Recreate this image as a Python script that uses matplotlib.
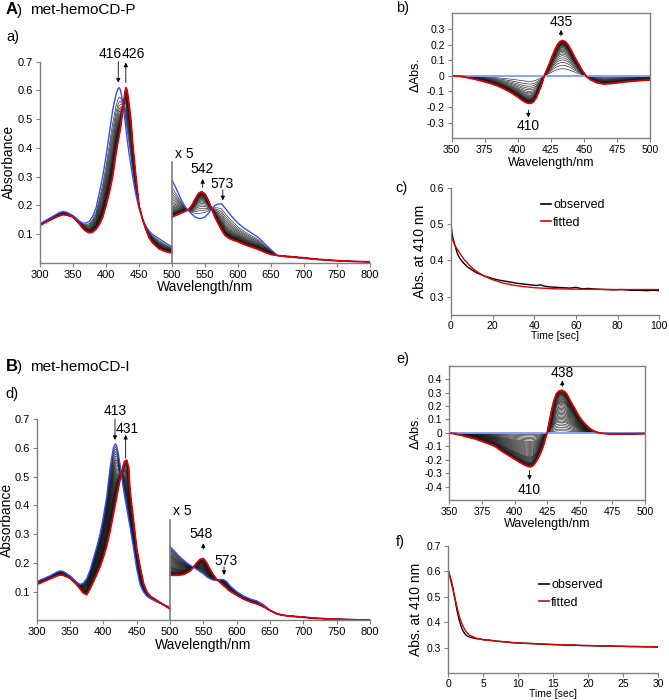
import numpy as np
import matplotlib
matplotlib.use('Agg')
import matplotlib.pyplot as plt
from matplotlib.lines import Line2D

plt.rcParams['font.family'] = ['Liberation Sans', 'DejaVu Sans']
plt.rcParams['axes.linewidth'] = 1.0

# ---------------- spectra, Soret side (300-500 nm, as measured)
wl_uv = [300, 310, 320, 330, 335, 340, 350, 360, 365, 370, 375, 380, 385, 390, 395, 400,
         405, 410, 415, 418, 420, 422, 425, 428, 430, 432, 435, 438, 440, 445, 450, 455,
         460, 465, 470, 480, 490, 500]
P_blue_uv = [0.137, 0.150, 0.163, 0.176, 0.179, 0.177, 0.165, 0.145, 0.139, 0.139, 0.145, 0.163,
             0.192, 0.245, 0.300, 0.370, 0.450, 0.530, 0.585, 0.605, 0.610, 0.600, 0.565, 0.510,
             0.470, 0.430, 0.380, 0.335, 0.305, 0.240, 0.190, 0.155, 0.130, 0.112, 0.100, 0.085,
             0.070, 0.056]
P_red_uv = [0.131, 0.143, 0.155, 0.165, 0.168, 0.167, 0.160, 0.135, 0.120, 0.110, 0.105, 0.108,
            0.118, 0.135, 0.160, 0.200, 0.245, 0.300, 0.380, 0.420, 0.445, 0.470, 0.525, 0.580,
            0.610, 0.600, 0.550, 0.490, 0.425, 0.305, 0.200, 0.155, 0.120, 0.090, 0.072, 0.050,
            0.040, 0.035]
I_blue_uv = [0.135, 0.145, 0.155, 0.168, 0.172, 0.170, 0.155, 0.133, 0.125, 0.130, 0.145, 0.175,
             0.215, 0.255, 0.300, 0.360, 0.430, 0.530, 0.600, 0.614, 0.605, 0.585, 0.540, 0.490,
             0.460, 0.430, 0.390, 0.350, 0.325, 0.255, 0.180, 0.125, 0.100, 0.085, 0.077, 0.065,
             0.055, 0.046]
I_red_uv = [0.125, 0.135, 0.145, 0.155, 0.158, 0.157, 0.147, 0.125, 0.110, 0.095, 0.090, 0.110,
            0.135, 0.160, 0.187, 0.220, 0.260, 0.310, 0.370, 0.405, 0.430, 0.455, 0.490, 0.520,
            0.540, 0.553, 0.557, 0.530, 0.450, 0.350, 0.250, 0.187, 0.130, 0.100, 0.085, 0.070,
            0.055, 0.040]

# ---------------- spectra, Q-band side (500-800 nm, shown x 5)
wl_vis = [500, 505, 510, 515, 520, 525, 530, 535, 540, 545, 550, 555, 560, 565, 570, 575, 580,
          585, 590, 600, 610, 620, 630, 640, 650, 660, 670, 680, 700, 720, 750, 780, 800]
P_blue_vis = [0.287, 0.265, 0.240, 0.215, 0.195, 0.182, 0.170, 0.160, 0.155, 0.155, 0.160, 0.172,
              0.188, 0.200, 0.205, 0.206, 0.192, 0.178, 0.163, 0.138, 0.120, 0.105, 0.090, 0.068,
              0.046, 0.026, 0.022, 0.020, 0.016, 0.012, 0.008, 0.005, 0.004]
P_red_vis = [0.160, 0.165, 0.170, 0.175, 0.180, 0.185, 0.200, 0.222, 0.242, 0.248, 0.240, 0.218,
             0.189, 0.160, 0.137, 0.115, 0.097, 0.088, 0.082, 0.074, 0.064, 0.056, 0.048, 0.038,
             0.030, 0.026, 0.024, 0.022, 0.018, 0.013, 0.008, 0.005, 0.004]
I_blue_vis = [0.256, 0.245, 0.232, 0.220, 0.210, 0.200, 0.192, 0.185, 0.178, 0.170, 0.162, 0.152,
              0.145, 0.140, 0.140, 0.142, 0.142, 0.135, 0.120, 0.100, 0.085, 0.075, 0.068, 0.055,
              0.035, 0.022, 0.018, 0.016, 0.012, 0.008, 0.005, 0.003, 0.003]
I_red_vis = [0.158, 0.157, 0.157, 0.158, 0.160, 0.165, 0.172, 0.185, 0.200, 0.212, 0.215, 0.200,
             0.178, 0.158, 0.143, 0.133, 0.122, 0.112, 0.102, 0.088, 0.075, 0.065, 0.058, 0.048,
             0.035, 0.024, 0.018, 0.015, 0.011, 0.007, 0.004, 0.002, 0.002]

# fraction of conversion of every intermediate trace
frac_P = [0.20, 0.30, 0.38, 0.45, 0.51, 0.57, 0.62, 0.66, 0.70, 0.73, 0.76, 0.79, 0.81, 0.83,
          0.85, 0.87, 0.88, 0.89, 0.90, 0.91, 0.92, 0.93, 0.94, 0.95, 0.955, 0.96, 0.965, 0.97,
          0.975, 0.98, 0.985, 0.99, 0.995]
frac_I = [0.05, 0.09, 0.13, 0.17, 0.21, 0.25, 0.28, 0.31, 0.34, 0.37, 0.40, 0.43, 0.46, 0.49,
          0.52, 0.55, 0.58, 0.61, 0.64, 0.67, 0.70, 0.72, 0.74, 0.76, 0.78, 0.80, 0.82, 0.84,
          0.86, 0.875, 0.89, 0.90, 0.91, 0.92, 0.93, 0.94, 0.95, 0.96, 0.97, 0.975, 0.98, 0.985,
          0.99]

# ---------------- difference spectra (final - initial)
wl_dP = [350, 355, 360, 365, 370, 375, 380, 385, 390, 395, 400, 403, 406, 408, 410, 412, 414,
         416, 418, 420, 422, 424, 426, 428, 430, 432, 434, 436, 438, 440, 443, 446, 449, 452,
         455, 460, 465, 470, 475, 480, 490, 500]
dP_red = [0.0, -0.002, -0.008, -0.017, -0.027, -0.038, -0.050, -0.065, -0.085, -0.108, -0.135,
          -0.155, -0.170, -0.176, -0.175, -0.165, -0.140, -0.100, -0.055, 0.0, 0.040, 0.080,
          0.125, 0.165, 0.200, 0.220, 0.226, 0.218, 0.198, 0.170, 0.120, 0.075, 0.030, -0.005,
          -0.025, -0.045, -0.052, -0.050, -0.045, -0.040, -0.032, -0.026]
wl_dI = [350, 355, 360, 365, 370, 375, 380, 385, 390, 395, 400, 403, 406, 409, 412, 414, 416,
         418, 420, 422, 424, 425, 426, 428, 430, 432, 434, 436, 438, 440, 443, 446, 449, 452,
         455, 458, 461, 465, 470, 475, 480, 490, 500]
dI_red = [0.0, -0.008, -0.020, -0.033, -0.045, -0.062, -0.080, -0.100, -0.135, -0.165, -0.195,
          -0.213, -0.230, -0.245, -0.253, -0.245, -0.222, -0.190, -0.148, -0.100, -0.030, 0.0,
          0.050, 0.150, 0.235, 0.290, 0.312, 0.318, 0.310, 0.290, 0.235, 0.185, 0.130, 0.090,
          0.057, 0.030, 0.013, 0.0, -0.006, -0.008, -0.008, -0.007, -0.006]

# ---------------- kinetics at 410 nm
tc_obs = [0, 0.5, 1, 2, 3, 4, 5, 6, 8, 10, 12, 14, 16, 18, 20, 23, 26, 29, 32, 35, 38, 41, 43,
          45, 48, 51, 54, 57, 60, 63, 66, 70, 74, 78, 82, 86, 90, 94, 97, 100]
ac_obs = [0.502, 0.475, 0.460, 0.440, 0.420, 0.408, 0.400, 0.393, 0.382, 0.374, 0.367, 0.362,
          0.357, 0.354, 0.350, 0.346, 0.343, 0.340, 0.337, 0.335, 0.333, 0.331, 0.333, 0.329,
          0.327, 0.326, 0.325, 0.324, 0.326, 0.322, 0.323, 0.321, 0.320, 0.319, 0.320, 0.318,
          0.318, 0.317, 0.318, 0.317]
tc_fit = [0, 2, 4, 6, 8, 10, 13, 16, 20, 25, 30, 35, 40, 50, 60, 80, 100]
ac_fit = [0.467, 0.440, 0.422, 0.405, 0.392, 0.380, 0.367, 0.357, 0.347, 0.338, 0.332, 0.328,
          0.325, 0.322, 0.321, 0.320, 0.320]
tf_obs = [0, 0.15, 0.3, 0.5, 0.7, 0.85, 1, 1.15, 1.3, 1.5, 1.7, 2, 2.3, 2.6, 3, 3.5, 4, 4.5, 5,
          6, 7, 8, 9, 10, 11, 12, 13, 14, 15, 16, 17, 18, 19, 20, 21, 22, 23, 24, 25, 26, 27, 28,
          29, 30]
af_obs = [0.605, 0.590, 0.575, 0.555, 0.530, 0.505, 0.485, 0.460, 0.440, 0.415, 0.395, 0.372,
          0.358, 0.348, 0.343, 0.339, 0.336, 0.335, 0.332, 0.330, 0.326, 0.324, 0.321, 0.319,
          0.318, 0.317, 0.315, 0.314, 0.313, 0.312, 0.310, 0.311, 0.309, 0.309, 0.308, 0.307,
          0.308, 0.306, 0.306, 0.305, 0.305, 0.304, 0.304, 0.303]
tf_fit = [0, 0.3, 0.6, 1, 1.5, 2, 2.5, 3, 4, 5, 7, 10, 15, 20, 25, 30]
af_fit = [0.605, 0.570, 0.535, 0.490, 0.430, 0.390, 0.365, 0.350, 0.338, 0.332, 0.326, 0.319,
          0.313, 0.309, 0.306, 0.304]

BLUE = '#3050ff'
LBLUE = '#7f9cff'
RED = '#e00000'
GRAY = '#808080'


def style(ax, box=False, size=7.5):
    for s in ax.spines.values():
        s.set_color(GRAY)
    if not box:
        ax.spines['top'].set_visible(False)
        ax.spines['right'].set_visible(False)
    ax.tick_params(colors=GRAY, labelcolor='black', labelsize=size, length=3, width=0.8, pad=2)


def family(ax, wl, start, end, fracs):
    s = np.array(start)
    e = np.array(end)
    for f in fracs:
        ax.plot(wl, s + f * (e - s), color='#1a1a1a', lw=0.45)
    ax.plot(wl, s, color=BLUE, lw=1.0)
    ax.plot(wl, e, color=RED, lw=1.3)


def arrow(ax, x, y0, y1):
    ax.annotate('', xy=(x, y1), xytext=(x, y0),
                arrowprops=dict(arrowstyle='-|>', color='black', lw=0.6, mutation_scale=6,
                                shrinkA=0, shrinkB=0))


fig = plt.figure(figsize=(6.69, 7.0), dpi=100)

# ---- a) and d): absorption spectra
ax_a = fig.add_axes([0.0598, 0.6243, 0.4933, 0.2876])
ax_d = fig.add_axes([0.0549, 0.1136, 0.4982, 0.2879])
for ax, fr, uv, vis, ylc in [(ax_a, frac_P, (P_blue_uv, P_red_uv), (P_blue_vis, P_red_vis), -0.073),
                             (ax_d, frac_I, (I_blue_uv, I_red_uv), (I_blue_vis, I_red_vis), -0.068)]:
    family(ax, wl_uv, uv[0], uv[1], fr)
    family(ax, wl_vis, vis[0], vis[1], fr)
    ax.plot([500, 500], [0, 0.35], color=GRAY, lw=1.2)
    ax.text(504, 0.38, 'x 5', fontsize=10, va='center')
    ax.set_xlim(300, 800)
    ax.set_ylim(0, 0.7)
    ax.set_xticks(range(300, 801, 50))
    ax.set_yticks([0.1, 0.2, 0.3, 0.4, 0.5, 0.6, 0.7])
    ax.set_xlabel('Wavelength/nm', fontsize=10)
    ax.set_ylabel('Absorbance', fontsize=10)
    ax.xaxis.set_label_coords(0.5, -0.085)
    ax.yaxis.set_label_coords(ylc, 0.5)
    style(ax, size=8)

ax_a.text(406.5, 0.725, '416', fontsize=10, ha='center', va='center')
ax_a.text(441, 0.725, '426', fontsize=10, ha='center', va='center')
arrow(ax_a, 418.6, 0.70, 0.627)
arrow(ax_a, 430, 0.627, 0.697)
ax_a.text(545, 0.328, '542', fontsize=10, ha='center', va='center')
arrow(ax_a, 546.5, 0.262, 0.292)
ax_a.text(576, 0.273, '573', fontsize=10, ha='center', va='center')
arrow(ax_a, 577, 0.255, 0.218)

ax_d.text(418.3, 0.728, '413', fontsize=10, ha='center', va='center')
ax_d.text(436, 0.664, '431', fontsize=10, ha='center', va='center')
arrow(ax_d, 417.4, 0.70, 0.627)
arrow(ax_d, 433.4, 0.564, 0.645)
ax_d.text(547, 0.299, '548', fontsize=10, ha='center', va='center')
arrow(ax_d, 549.8, 0.247, 0.268)
ax_d.text(584, 0.207, '573', fontsize=10, ha='center', va='center')
arrow(ax_d, 581, 0.187, 0.158)

# ---- b) and e): difference spectra
ax_b = fig.add_axes([0.6752, 0.8024, 0.2964, 0.1786])
ax_e = fig.add_axes([0.6716, 0.2857, 0.2925, 0.1917])
for ax, wl, d, fr, lim, ylc in [(ax_b, wl_dP, dP_red, frac_P, 0.4, -0.15),
                                (ax_e, wl_dI, dI_red, frac_I, 0.5, -0.14)]:
    d = np.array(d)
    for f in fr:
        ax.plot(wl, f * d, color='#1a1a1a', lw=0.45)
    ax.plot([350, 500], [0, 0], color=LBLUE, lw=1.3)
    ax.plot(wl, d, color=RED, lw=1.3)
    ax.set_xlim(350, 500)
    ax.set_ylim(-lim, lim)
    ax.set_xticks(range(350, 501, 25))
    yt = np.round(np.arange(-lim + 0.1, lim - 0.05, 0.1), 1)
    ax.set_yticks(yt)
    ax.set_yticklabels(['0' if v == 0 else '%g' % v for v in yt])
    ax.set_xlabel('Wavelength/nm', fontsize=9, labelpad=1)
    ax.set_ylabel(r'$\mathit{\Delta}$Abs.', fontsize=9)
    ax.yaxis.set_label_coords(ylc, 0.5)
    style(ax, box=True)

ax_b.text(432.7, 0.342, '435', fontsize=10, ha='center', va='center')
arrow(ax_b, 432.7, 0.255, 0.294)
ax_b.text(408, -0.32, '410', fontsize=10, ha='center', va='center')
arrow(ax_b, 408, -0.22, -0.267)
ax_e.text(436.6, 0.447, '438', fontsize=10, ha='center', va='center')
arrow(ax_e, 436.6, 0.345, 0.39)
ax_e.text(411.5, -0.427, '410', fontsize=10, ha='center', va='center')
arrow(ax_e, 411.5, -0.28, -0.35)

# ---- c) and f): kinetics
ax_c = fig.add_axes([0.6741, 0.55, 0.3114, 0.1819])
ax_f = fig.add_axes([0.6701, 0.0381, 0.3139, 0.1819])
for ax, to, ao, tf, af, ylc, leg_y in [(ax_c, tc_obs, ac_obs, tc_fit, ac_fit, -0.115, 0.91),
                                       (ax_f, tf_obs, af_obs, tf_fit, af_fit, -0.12, 0.74)]:
    ax.plot(to, ao, color='black', lw=1.0)
    ax.plot(tf, af, color=RED, lw=1.0)
    ax.set_xlabel('Time [sec]', fontsize=7.5)
    ax.set_ylabel('Abs. at 410 nm', fontsize=10)
    ax.xaxis.set_label_coords(0.5, -0.125)
    ax.yaxis.set_label_coords(ylc, 0.5)
    style(ax)
    ax.tick_params(axis='x', pad=1)
    h = [Line2D([], [], color='black', lw=1.2), Line2D([], [], color=RED, lw=1.2)]
    ax.legend(h, ['observed', 'fitted'], frameon=False, fontsize=9, handlelength=0.8,
              handletextpad=0.2, borderpad=0, borderaxespad=0, labelspacing=0.45,
              loc='upper left', bbox_to_anchor=(0.43, leg_y))

ax_c.set_xlim(0, 100)
ax_c.set_ylim(0.25, 0.6)
ax_c.set_xticks(range(0, 101, 20))
ax_c.set_yticks([0.3, 0.4, 0.5, 0.6])
ax_f.set_xlim(0, 30)
ax_f.set_ylim(0.2, 0.7)
ax_f.set_xticks(range(0, 31, 5))
ax_f.set_yticks([0.3, 0.4, 0.5, 0.6, 0.7])

# ---- panel labels
fig.text(6 / 669, 1 - 14.5 / 700, 'A', fontsize=12, fontweight='bold', va='baseline')
fig.text(17 / 669, 1 - 14.5 / 700, ')', fontsize=11, va='baseline')
fig.text(30 / 669, 1 - 14.5 / 700, 'met-hemoCD-P', fontsize=11, va='baseline')
fig.text(6 / 669, 1 - 371 / 700, 'B', fontsize=12, fontweight='bold', va='baseline')
fig.text(17 / 669, 1 - 371 / 700, ')', fontsize=11, va='baseline')
fig.text(30 / 669, 1 - 371 / 700, 'met-hemoCD-I', fontsize=11, va='baseline')
for lab, x, y in [('a)', 6, 41), ('b)', 396, 12), ('c)', 395, 192), ('d)', 5, 398),
                  ('e)', 396, 363), ('f)', 396, 546)]:
    fig.text(x / 669, 1 - y / 700, lab, fontsize=10.5, va='baseline')

fig.savefig('out.png', dpi=100)
